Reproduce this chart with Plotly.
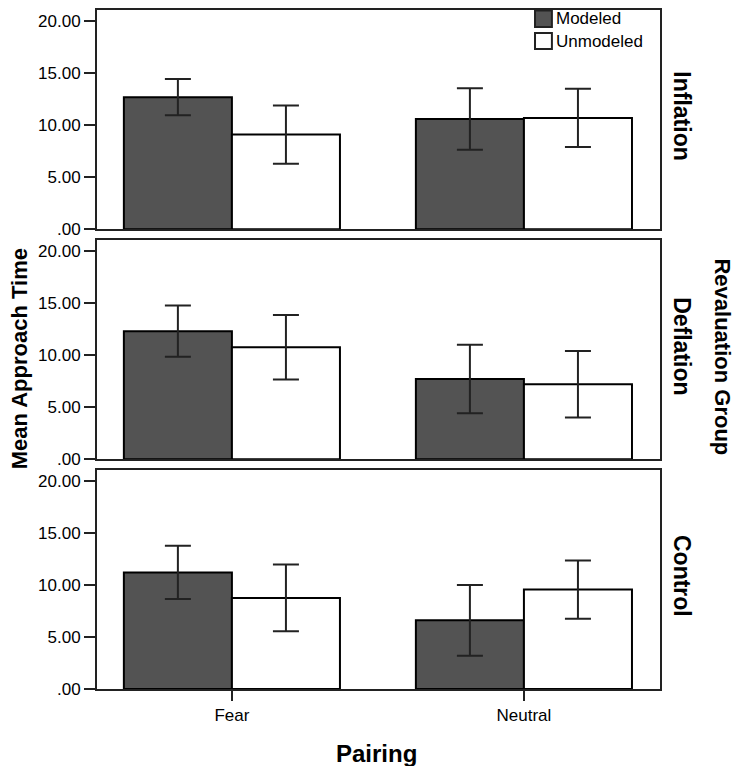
import plotly.graph_objects as go
from plotly.subplots import make_subplots

groups = ["Inflation", "Deflation", "Control"]
pairings = ["Fear", "Neutral"]

modeled_mean = [[12.7, 10.6], [12.3, 7.7], [11.2, 6.6]]
modeled_err = [[1.75, 2.95], [2.45, 3.3], [2.55, 3.4]]
unmodeled_mean = [[9.1, 10.7], [10.75, 7.2], [8.75, 9.55]]
unmodeled_err = [[2.8, 2.8], [3.1, 3.2], [3.2, 2.8]]

y_ticks = [0, 5, 10, 15, 20]
y_ticktext = [".00", "5.00", "10.00", "15.00", "20.00"]

FONT = "Arial, Liberation Sans, sans-serif"
DARK = "#535353"
LINE = "#222222"

fig = make_subplots(rows=3, cols=1, shared_xaxes=True, vertical_spacing=0.0154)

for i, g in enumerate(groups):
    row = i + 1
    fig.add_trace(go.Bar(x=pairings, y=modeled_mean[i], name="Modeled",
                         marker=dict(color=DARK, line=dict(color="black", width=2)),
                         error_y=dict(type="data", array=modeled_err[i], color=LINE, thickness=2, width=13),
                         showlegend=False), row=row, col=1)
    fig.add_trace(go.Bar(x=pairings, y=unmodeled_mean[i], name="Unmodeled",
                         marker=dict(color="white", line=dict(color="black", width=2)),
                         error_y=dict(type="data", array=unmodeled_err[i], color=LINE, thickness=2, width=13),
                         showlegend=False), row=row, col=1)
    fig.update_yaxes(range=[0, 21.07], tickvals=y_ticks, ticktext=y_ticktext,
                     ticks="outside", ticklen=11, tickwidth=2, tickcolor=LINE,
                     showline=True, linewidth=2, linecolor=LINE, mirror=True,
                     showgrid=False, zeroline=False,
                     tickfont=dict(family=FONT, size=17, color="black"), row=row, col=1)
    fig.update_xaxes(range=[-0.462, 1.466], showline=True, linewidth=2, linecolor=LINE,
                     mirror=True, showgrid=False, row=row, col=1,
                     ticks="outside" if row == 3 else "", ticklen=10, tickwidth=2, tickcolor=LINE,
                     showticklabels=(row == 3),
                     tickfont=dict(family=FONT, size=17, color="black"))
    dom = fig.layout["yaxis" if row == 1 else f"yaxis{row}"].domain
    fig.add_annotation(text=f"<b>{g}</b>", xref="paper", yref="paper",
                       x=1.039, y=(dom[0] + dom[1]) / 2 + 0.005, xanchor="center", yanchor="middle",
                       showarrow=False, textangle=90,
                       font=dict(family=FONT, size=23, color="black"))

fig.add_annotation(text="<b>Revaluation Group</b>", xref="paper", yref="paper",
                   x=1.111, y=0.489, xanchor="center", yanchor="middle",
                   showarrow=False, textangle=90,
                   font=dict(family=FONT, size=22, color="black"))
fig.add_annotation(text="<b>Mean Approach Time</b>", xref="paper", yref="paper",
                   x=-0.138, y=0.486, xanchor="center", yanchor="middle",
                   showarrow=False, textangle=-90,
                   font=dict(family=FONT, size=22, color="black"))
fig.add_annotation(text="<b>Pairing</b>", xref="paper", yref="paper",
                   x=0.497, y=-0.0954, xanchor="center", yanchor="middle", showarrow=False,
                   font=dict(family=FONT, size=24, color="black"))

# legend box (drawn by hand to get SPSS-style swatches)
legend_items = [("Modeled", DARK, 0.975, 0.9993, 0.987), ("Unmodeled", "white", 0.9427, 0.9662, 0.954)]
for name, col, y0, y1, ty in legend_items:
    fig.add_shape(type="rect", xref="paper", yref="paper", x0=0.778, x1=0.808, y0=y0, y1=y1,
                  fillcolor=col, line=dict(color=LINE, width=2))
    fig.add_annotation(text=name, xref="paper", yref="paper", x=0.811, y=ty,
                       xanchor="left", yanchor="middle", showarrow=False,
                       font=dict(family=FONT, size=17, color="black"))

fig.update_layout(
    width=742, height=766,
    margin=dict(l=89, r=90, t=0, b=85),
    barmode="group", bargap=0.26, bargroupgap=0,
    plot_bgcolor="white", paper_bgcolor="white",
    showlegend=False,
)

fig.write_html("out.html")
